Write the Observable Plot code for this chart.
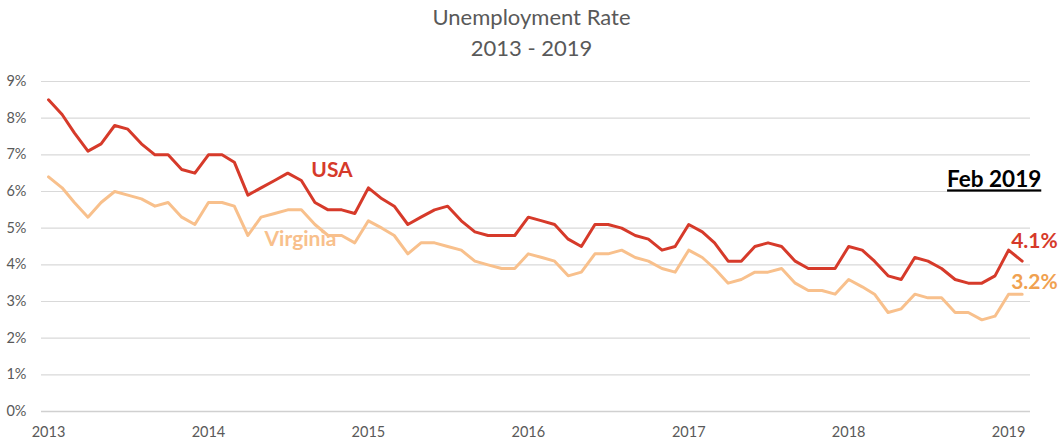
<!DOCTYPE html>
<html><head><meta charset="utf-8">
<script src="https://cdn.jsdelivr.net/npm/d3@7"></script>
<script src="https://cdn.jsdelivr.net/npm/@observablehq/plot@0.6"></script>
<style>
body{margin:0;background:#fff;font-family:Lato,"Open Sans",sans-serif}
#title{box-sizing:border-box;height:66px;padding-top:2px;text-align:center;color:#595959;font-size:22px;line-height:30.6px;width:1063px}
</style>
</head><body>
<div id="title"><div>Unemployment Rate</div><div>2013 - 2019</div></div>
<div id="chart"></div>
<script>
// Monthly unemployment rate (%), Jan 2013 – Feb 2019
const usa = [
  8.5, 8.1, 7.6, 7.1, 7.3, 7.8, 7.7, 7.3, 7.0, 7.0, 6.6, 6.5,
  7.0, 7.0, 6.8, 5.9, 6.1, 6.3, 6.5, 6.3, 5.7, 5.5, 5.5, 5.4,
  6.1, 5.8, 5.6, 5.1, 5.3, 5.5, 5.6, 5.2, 4.9, 4.8, 4.8, 4.8,
  5.3, 5.2, 5.1, 4.7, 4.5, 5.1, 5.1, 5.0, 4.8, 4.7, 4.4, 4.5,
  5.1, 4.9, 4.6, 4.1, 4.1, 4.5, 4.6, 4.5, 4.1, 3.9, 3.9, 3.9,
  4.5, 4.4, 4.1, 3.7, 3.6, 4.2, 4.1, 3.9, 3.6, 3.5, 3.5, 3.7,
  4.4, 4.1
];
const virginia = [
  6.4, 6.1, 5.7, 5.3, 5.7, 6.0, 5.9, 5.8, 5.6, 5.7, 5.3, 5.1,
  5.7, 5.7, 5.6, 4.8, 5.3, 5.4, 5.5, 5.5, 5.1, 4.8, 4.8, 4.6,
  5.2, 5.0, 4.8, 4.3, 4.6, 4.6, 4.5, 4.4, 4.1, 4.0, 3.9, 3.9,
  4.3, 4.2, 4.1, 3.7, 3.8, 4.3, 4.3, 4.4, 4.2, 4.1, 3.9, 3.8,
  4.4, 4.2, 3.9, 3.5, 3.6, 3.8, 3.8, 3.9, 3.5, 3.3, 3.3, 3.2,
  3.6, 3.4, 3.2, 2.7, 2.8, 3.2, 3.1, 3.1, 2.7, 2.7, 2.5, 2.6,
  3.2, 3.2
];
const years = [2013, 2014, 2015, 2016, 2017, 2018, 2019];
const yTicks = [0, 1, 2, 3, 4, 5, 6, 7, 8, 9];
const seriesNames = ["USA", "Virginia"];
const endLabel = "Feb 2019";

const usaColor = "#d63a2a";
const vaColor = "#f8c08c";
const vaLabelColor = "#f0a150";

const start = new Date(Date.UTC(2013, 0, 1));
const toRows = arr => arr.map((v, i) => ({date: d3.utcMonth.offset(start, i), value: v}));
const usaRows = toRows(usa);
const vaRows = toRows(virginia);
const usaLast = usaRows[usaRows.length - 1];
const vaLast = vaRows[vaRows.length - 1];

const usaLabel = [{text: seriesNames[0], date: new Date(Date.UTC(2014, 9, 10)), value: 6.57}];
const vaLabel = [{text: seriesNames[1], date: new Date(Date.UTC(2014, 6, 30)), value: 4.70}];

const chart = Plot.plot({
  width: 1063,
  height: 379,
  marginTop: 15,
  marginBottom: 34,
  marginLeft: 41,
  marginRight: 33,
  style: {fontFamily: "Lato, 'Open Sans', sans-serif", fontSize: "14.5px", color: "#595959", background: "#fff"},
  x: {type: "utc", domain: [new Date(Date.UTC(2012, 11, 16)), new Date(Date.UTC(2019, 1, 20))]},
  y: {domain: [0, 9]},
  marks: [
    Plot.gridY(yTicks, {stroke: "#d9d9d9", strokeOpacity: 1, strokeWidth: 1.2}),
    Plot.ruleY([0], {stroke: "#d0d0d0", strokeWidth: 1.6}),
    Plot.axisY({ticks: yTicks, tickFormat: d => d + "%", tickSize: 0, tickPadding: 15, label: null}),
    Plot.axisX({ticks: years.map(y => new Date(Date.UTC(y, 0, 1))), tickFormat: d3.utcFormat("%Y"), tickSize: 0, tickPadding: 15, label: null}),
    Plot.line(vaRows, {x: "date", y: "value", stroke: vaColor, strokeWidth: 3}),
    Plot.line(usaRows, {x: "date", y: "value", stroke: usaColor, strokeWidth: 3}),
    Plot.text(usaLabel, {x: "date", y: "value", text: "text", fill: usaColor, fontSize: 21, fontWeight: "bold"}),
    Plot.text(vaLabel, {x: "date", y: "value", text: "text", fill: vaColor, fontSize: 21, fontWeight: "bold"}),
    Plot.text([usaLast], {x: "date", y: "value", text: d => d.value.toFixed(1) + "%", fill: usaColor, fontSize: 21, fontWeight: "bold", textAnchor: "start", dx: -11, dy: -20}),
    Plot.text([vaLast], {x: "date", y: "value", text: d => d.value.toFixed(1) + "%", fill: vaLabelColor, fontSize: 21, fontWeight: "bold", textAnchor: "start", dx: -11, dy: -12}),
    Plot.text([usaLast], {x: "date", y: "value", text: () => endLabel, fill: "#000", fontSize: 22.5, fontWeight: "bold", textAnchor: "middle", dx: -28, dy: -81})
  ]
});
d3.select(chart).selectAll("text").filter(function() { return this.textContent === endLabel; })
  .style("text-decoration", "underline");
document.getElementById("chart").appendChild(chart);
</script>
</body></html>
